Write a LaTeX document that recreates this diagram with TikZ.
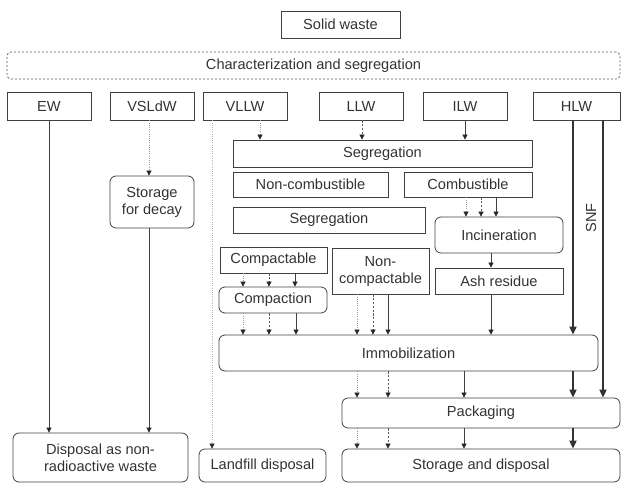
\documentclass[tikz,border=0pt]{standalone}
\usepackage{fontspec}
\setmainfont{Liberation Sans}
\usetikzlibrary{arrows.meta}
\begin{document}
\begin{tikzpicture}[x=1pt,y=-1pt,
 font=\fontsize{14.6}{17}\selectfont,
 box/.style={draw=black!75,line width=0.8pt,inner sep=0pt,align=center,text=black!80},
 rbox/.style={box,rounded corners=6pt},
 arr/.style={draw=black!75,line width=0.7pt,-{Triangle[length=5pt,width=5pt,color=black!85]}},
 vl/.style={arr,draw=black!40,dash pattern=on 1pt off 1.2pt},
 lo/.style={arr,draw=black!65,dash pattern=on 2.2pt off 1.6pt},
 il/.style={arr},
 hi/.style={draw=black!80,line width=1.8pt,-{Triangle[length=8pt,width=7pt]}}]
 \useasboundingbox (0,0) rectangle (622,483);
 % top
 \node[box,minimum width=119pt,minimum height=27pt] (solid) at (340.5,24.5) {Solid waste};
 \node[box,draw=black!65,dash pattern=on 2pt off 2pt,rounded corners=4pt,
   minimum width=613pt,minimum height=27pt] (charseg) at (313.5,65.5) {Characterization and segregation};
 % waste classes
 \node[box,minimum width=84pt,minimum height=28pt] (ew) at (49,106) {EW};
 \node[box,minimum width=84pt,minimum height=28pt] (vsldw) at (152,106) {VSLdW};
 \node[box,minimum width=84pt,minimum height=28pt] (vllw) at (245,106) {VLLW};
 \node[box,minimum width=84pt,minimum height=28pt] (llw) at (361,106) {LLW};
 \node[box,minimum width=84pt,minimum height=28pt] (ilw) at (465,106) {ILW};
 \node[box,minimum width=87pt,minimum height=28pt] (hlw) at (576.5,106) {HLW};
 % treatment
 \node[box,minimum width=299pt,minimum height=27pt] (seg1) at (382.5,153.5) {Segregation};
 \node[box,minimum width=155pt,minimum height=25pt] (noncomb) at (310.5,184.5) {Non-combustible};
 \node[box,minimum width=128pt,minimum height=25pt] (comb) at (468,184.5) {Combustible};
 \node[box,minimum width=192pt,minimum height=26pt] (seg2) at (329,220) {Segregation};
 \node[rbox,minimum width=128pt,minimum height=36pt] (incin) at (499,235) {Incineration};
 \node[box,minimum width=128pt,minimum height=26pt] (ash) at (499,281) {Ash residue};
 \node[box,minimum width=107pt,minimum height=26pt] (compbl) at (273.5,260) {Compactable};
 \node[box,minimum width=97pt,minimum height=46pt] (noncompbl) at (380.5,271) {Non-\\compactable};
 \node[rbox,minimum width=108pt,minimum height=26pt] (compaction) at (273,300) {Compaction};
 \node[rbox,minimum width=84pt,minimum height=52pt] (decay) at (152,202) {Storage\\for decay};
 \node[rbox,minimum width=379pt,minimum height=36pt] (immob) at (408.5,353) {Immobilization};
 \node[rbox,minimum width=278pt,minimum height=30pt] (pack) at (481,413) {Packaging};
 % disposal
 \node[rbox,minimum width=278pt,minimum height=33pt] (store) at (481,465.5) {Storage and disposal};
 \node[rbox,minimum width=127pt,minimum height=33pt] (landfill) at (262.5,465.5) {Landfill disposal};
 \node[rbox,minimum width=175pt,minimum height=49pt] (nonrad) at (100.5,457.5) {Disposal as non-\\radioactive waste};
 \node[rotate=90,text=black!80] (snf) at (591,218) {SNF};
 % columns
 \coordinate (xew) at (49,0);
 \coordinate (xvs) at (149,0);
 \coordinate (xvf) at (212,0);
 \coordinate (xash) at (491,0);
 \coordinate (xh1) at (573,0);
 \coordinate (xh2) at (603,0);
 % connectors
 \draw[il] (ew.south -| xew) -- (nonrad.north -| xew);
 \draw[vl] (vsldw.south -| xvs) -- (decay.north -| xvs);
 \draw[il] (decay.south -| xvs) -- (nonrad.north -| xvs);
 \draw[vl,draw=black!30] (vllw.south -| xvf) -- (landfill.north -| xvf);
 \foreach \s/\x/\a/\b in {vl/260/vllw/seg1, lo/362/llw/seg1, il/465/ilw/seg1,
   vl/466/comb/incin, lo/481/comb/incin, il/496/comb/incin,
   il/491/incin/ash, il/491/ash/immob,
   vl/243/compbl/compaction, lo/269/compbl/compaction, il/295/compbl/compaction,
   vl/243/compaction/immob, lo/269/compaction/immob, il/296/compaction/immob,
   vl/357/noncompbl/immob, lo/373/noncompbl/immob, il/388/noncompbl/immob,
   vl/357/immob/pack, lo/388/immob/pack, il/464/immob/pack,
   vl/357/pack/store, lo/388/pack/store, il/464/pack/store}{
   \coordinate (t) at (\x,0);
   \draw[\s] (\a.south -| t) -- (\b.north -| t);
 }
 \draw[hi] (hlw.south -| xh1) -- (immob.north -| xh1);
 \draw[hi] (immob.south -| xh1) -- (pack.north -| xh1);
 \draw[hi] (pack.south -| xh1) -- (store.north -| xh1);
 \draw[hi] (hlw.south -| xh2) -- (pack.north -| xh2);
\end{tikzpicture}
\end{document}
